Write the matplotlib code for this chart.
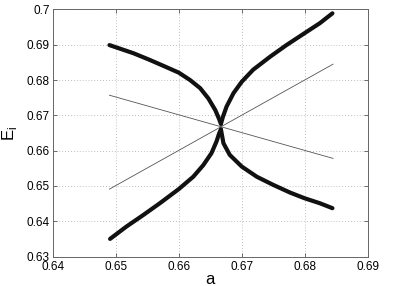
import matplotlib
matplotlib.use("Agg")
import matplotlib.pyplot as plt

plt.rcParams['font.family'] = ['Liberation Sans', 'DejaVu Sans']

# Branches of E_i vs a
ul_a = [0.6490, 0.6528, 0.6554, 0.6581, 0.6600, 0.6618, 0.6634, 0.6647, 0.6658, 0.6664, 0.6667]
ul_e = [0.6899, 0.6876, 0.6857, 0.6836, 0.6821, 0.6800, 0.6777, 0.6748, 0.6715, 0.6690, 0.6676]

ur_a = [0.6667, 0.6670, 0.6676, 0.6687, 0.6700, 0.6718, 0.6745, 0.6771, 0.6800, 0.6824, 0.6844]
ur_e = [0.6676, 0.6695, 0.6725, 0.6763, 0.6795, 0.6829, 0.6866, 0.6899, 0.6933, 0.6961, 0.6989]

ll_a = [0.6491, 0.6517, 0.6544, 0.6570, 0.6600, 0.6623, 0.6639, 0.6652, 0.6660, 0.6664, 0.6667]
ll_e = [0.6350, 0.6385, 0.6418, 0.6451, 0.6491, 0.6526, 0.6559, 0.6593, 0.6626, 0.6648, 0.6660]

lr_a = [0.6667, 0.6671, 0.6681, 0.6700, 0.6724, 0.6750, 0.6777, 0.6800, 0.6824, 0.6844]
lr_e = [0.6660, 0.6621, 0.6588, 0.6555, 0.6526, 0.6503, 0.6481, 0.6465, 0.6451, 0.6437]

# Thin straight lines
line_a = [0.6490, 0.6845]
dec_e = [0.6757, 0.6578]
inc_e = [0.6491, 0.6845]

xticks = [0.64, 0.65, 0.66, 0.67, 0.68, 0.69]
yticks = [0.63, 0.64, 0.65, 0.66, 0.67, 0.68, 0.69, 0.7]
xticklabels = ['0.64', '0.65', '0.66', '0.67', '0.68', '0.69']
yticklabels = ['0.63', '0.64', '0.65', '0.66', '0.67', '0.68', '0.69', '0.7']

fig = plt.figure(figsize=(4.09, 2.86), dpi=100)
ax = fig.add_axes([0.129, 0.103, 0.770, 0.864])

ax.plot(line_a, dec_e, color='#555555', lw=0.6)
ax.plot(line_a, inc_e, color='#555555', lw=0.6)

for xa, ye in [(ul_a, ul_e), (ur_a, ur_e), (ll_a, ll_e), (lr_a, lr_e)]:
    ax.plot(xa, ye, color='#111111', lw=3.0, solid_capstyle='round', solid_joinstyle='round')

ax.set_xlim(0.64, 0.69)
ax.set_ylim(0.63, 0.70)
ax.set_xticks(xticks)
ax.set_xticklabels(xticklabels)
ax.set_yticks(yticks)
ax.set_yticklabels(yticklabels)
ax.grid(True, ls=(0, (1, 2.5)), color='#aaaaaa', lw=0.6)
ax.tick_params(direction='in', length=3, width=0.6, labelsize=8.5, top=True, right=True, color='#555555', pad=2)
ax.tick_params(axis='x', pad=3.5)
for s in ax.spines.values():
    s.set_color('#666666')
    s.set_linewidth(0.7)
ax.set_xlabel('a', fontsize=12, labelpad=-1)
ax.set_ylabel(r'E$_\mathregular{i}$', fontsize=12, labelpad=6)

fig.savefig('out.png', dpi=100)
